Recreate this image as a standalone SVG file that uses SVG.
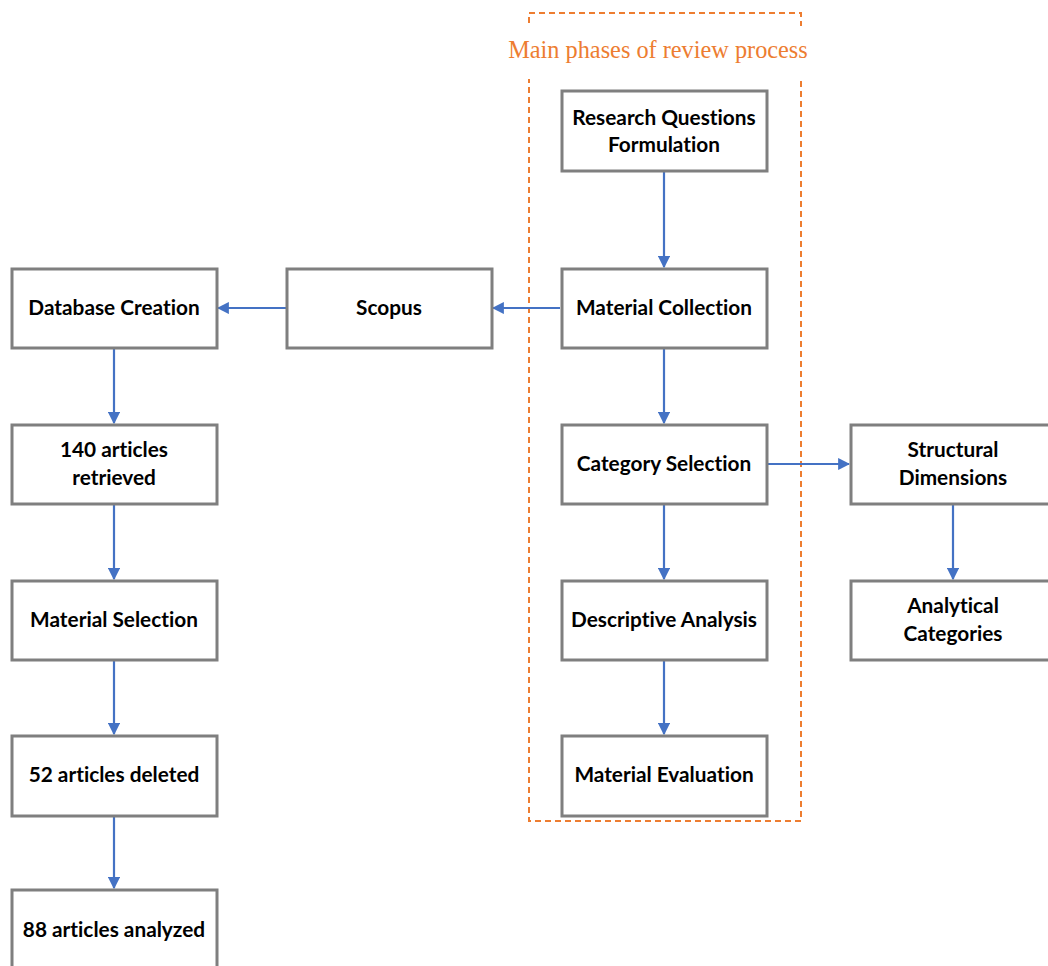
<svg xmlns="http://www.w3.org/2000/svg" width="1048" height="966" viewBox="0 0 1048 966">
<defs>
<style>
.box{fill:#fff;stroke:#7f7f7f;stroke-width:3}
.lbl{font-family:Lato,"Open Sans",sans-serif;font-weight:bold;font-size:20.8px;fill:#000;text-anchor:middle;font-variant-ligatures:none}
.con{stroke:#4472c4;stroke-width:2.2;fill:none;marker-end:url(#ah)}
</style>
<marker id="ah" viewBox="0 0 10 10" refX="9" refY="5" markerWidth="5.5" markerHeight="5.5" orient="auto" markerUnits="strokeWidth">
<path d="M0,0 L10,5 L0,10 z" fill="#4472c4"/>
</marker>
</defs>
<rect width="1048" height="966" fill="#fff"/>
<g id="phase-frame">
<rect x="529" y="13" width="272" height="808" fill="none" stroke="#ed7d31" stroke-width="2" stroke-dasharray="6,4"/>
<rect x="505" y="26" width="305" height="53" fill="#fff"/>
<text x="658" y="58" font-family="Liberation Serif,serif" font-size="24.3" fill="#ed7d31" text-anchor="middle">Main phases of review process</text>
</g>
<g id="connectors">
<line class="con" x1="664" y1="172" x2="664" y2="267"/>
<line class="con" x1="560" y1="308" x2="493" y2="308"/>
<line class="con" x1="286" y1="308" x2="218" y2="308"/>
<line class="con" x1="664" y1="349" x2="664" y2="423"/>
<line class="con" x1="664" y1="505" x2="664" y2="579"/>
<line class="con" x1="664" y1="661" x2="664" y2="734"/>
<line class="con" x1="768" y1="464" x2="849" y2="464"/>
<line class="con" x1="953" y1="505" x2="953" y2="579"/>
<line class="con" x1="114" y1="349" x2="114" y2="423"/>
<line class="con" x1="114" y1="505" x2="114" y2="579"/>
<line class="con" x1="114" y1="661" x2="114" y2="734"/>
<line class="con" x1="114" y1="816" x2="114" y2="888"/>
</g>
<g id="rqf"><rect class="box" x="562" y="91" width="205" height="80"/><text class="lbl" x="664" y="125">Research Questions</text><text class="lbl" x="664" y="152">Formulation</text></g>
<g id="material-collection"><rect class="box" x="562" y="269" width="205" height="79"/><text class="lbl" x="664" y="315">Material Collection</text></g>
<g id="category-selection"><rect class="box" x="562" y="425" width="205" height="79"/><text class="lbl" x="664" y="471">Category Selection</text></g>
<g id="descriptive-analysis"><rect class="box" x="562" y="581" width="205" height="79"/><text class="lbl" x="664" y="627">Descriptive Analysis</text></g>
<g id="material-evaluation"><rect class="box" x="562" y="736" width="205" height="80"/><text class="lbl" x="664" y="782">Material Evaluation</text></g>
<g id="scopus"><rect class="box" x="287" y="269" width="205" height="79"/><text class="lbl" x="389" y="315">Scopus</text></g>
<g id="database-creation"><rect class="box" x="12" y="269" width="205" height="79"/><text class="lbl" x="114" y="315">Database Creation</text></g>
<g id="articles-retrieved"><rect class="box" x="12" y="425" width="205" height="79"/><text class="lbl" x="114" y="457">140 articles</text><text class="lbl" x="114" y="485">retrieved</text></g>
<g id="material-selection"><rect class="box" x="12" y="581" width="205" height="79"/><text class="lbl" x="114" y="627">Material Selection</text></g>
<g id="articles-deleted"><rect class="box" x="12" y="736" width="205" height="80"/><text class="lbl" x="114" y="782">52 articles deleted</text></g>
<g id="articles-analyzed"><rect class="box" x="12" y="890" width="205" height="80"/><text class="lbl" x="114" y="937">88 articles analyzed</text></g>
<g id="structural-dimensions"><rect class="box" x="851" y="425" width="205" height="79"/><text class="lbl" x="953" y="457">Structural</text><text class="lbl" x="953" y="485">Dimensions</text></g>
<g id="analytical-categories"><rect class="box" x="851" y="581" width="205" height="79"/><text class="lbl" x="953" y="613">Analytical</text><text class="lbl" x="953" y="641">Categories</text></g>
</svg>
